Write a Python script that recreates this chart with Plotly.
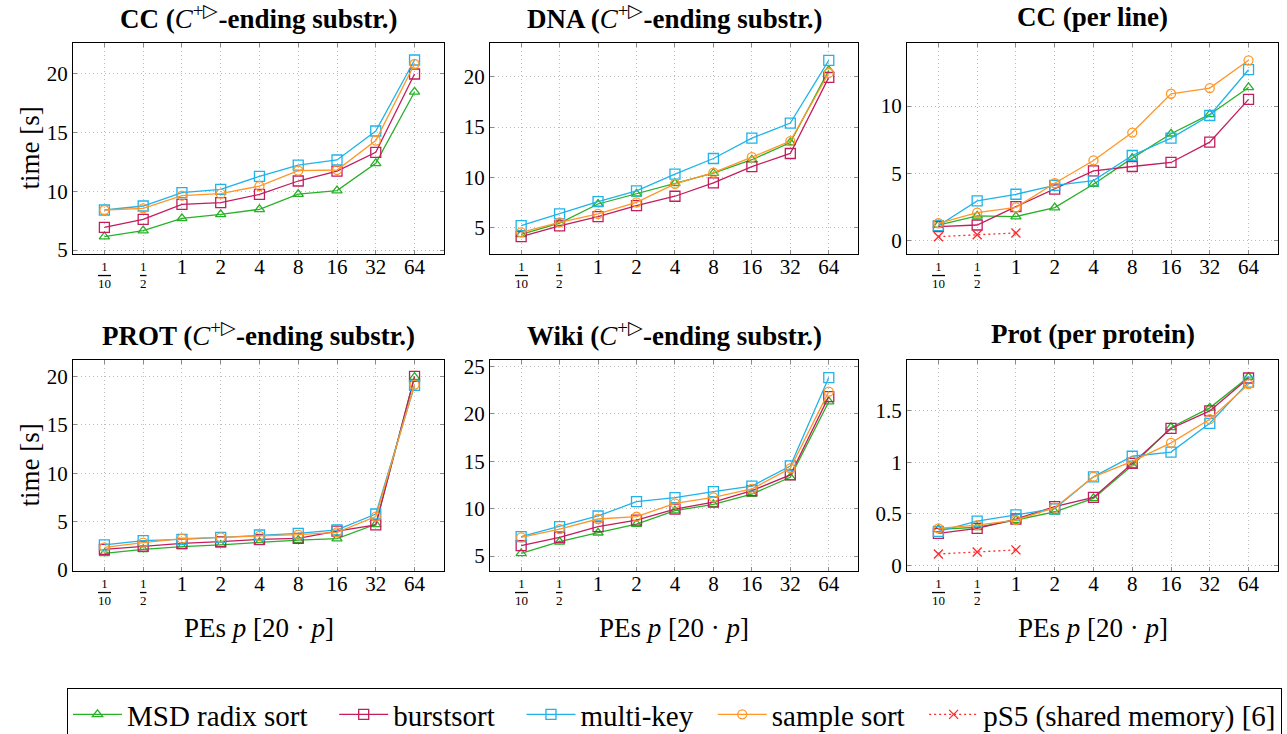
import plotly.graph_objects as go

# Positions below are window pixels; the page margin is removed after load so
# the figure's top-left corner is the window's top-left corner.  The figure is
# a bit taller than the window so the legend box runs past the bottom edge.
WIN_W, WIN_H = 1287, 734
FW, FH = WIN_W, 760
FONT = "Liberation Serif"

CATEGORIES = ["1/10", "1/2", "1", "2", "4", "8", "16", "32", "64"]
PS5_CATEGORIES = ["1/10", "1/2", "1"]
SERIES = ["MSD radix sort", "burstsort", "multi-key", "sample sort", "pS5 (shared memory) [6]"]

# CC (C+|>-ending substr.)
cc_sub_msd = [6.14, 6.65, 7.70, 8.04, 8.47, 9.77, 10.06, 12.39, 18.47]
cc_sub_burst = [6.93, 7.61, 8.89, 9.03, 9.74, 10.88, 11.73, 13.32, 20.00]
cc_sub_mkey = [8.41, 8.75, 9.89, 10.17, 11.28, 12.24, 12.67, 15.14, 21.19]
cc_sub_sample = [8.41, 8.55, 9.63, 9.80, 10.45, 11.76, 11.82, 14.32, 20.85]

# DNA (C+|>-ending substr.)
dna_msd = [4.34, 5.45, 7.35, 8.35, 9.41, 10.41, 11.75, 13.46, 20.63]
dna_burst = [4.10, 5.17, 6.10, 7.19, 8.12, 9.45, 11.07, 12.37, 19.93]
dna_mkey = [5.20, 6.36, 7.59, 8.65, 10.31, 11.87, 13.89, 15.39, 21.63]
dna_sample = [4.53, 5.53, 6.36, 7.52, 9.35, 10.47, 12.00, 13.60, 20.37]

# CC (per line)
cc_line_msd = [1.14, 1.82, 1.77, 2.44, 4.18, 6.12, 7.94, 9.38, 11.39]
cc_line_burst = [1.02, 1.14, 2.51, 3.81, 5.17, 5.50, 5.80, 7.31, 10.50]
cc_line_mkey = [1.09, 2.94, 3.43, 4.10, 4.45, 6.32, 7.61, 9.30, 12.71]
cc_line_sample = [1.27, 2.06, 2.46, 4.25, 5.95, 8.03, 10.92, 11.34, 13.41]
cc_line_ps5 = [0.27, 0.42, 0.55]

# PROT (C+|>-ending substr.)
prot_sub_msd = [1.72, 2.14, 2.41, 2.59, 2.86, 3.10, 3.24, 4.72, 19.93]
prot_sub_burst = [2.14, 2.48, 2.76, 2.93, 3.17, 3.28, 4.03, 4.66, 20.00]
prot_sub_mkey = [2.59, 3.03, 3.17, 3.38, 3.62, 3.79, 4.14, 5.79, 19.07]
prot_sub_sample = [2.34, 2.83, 3.24, 3.38, 3.52, 3.66, 3.90, 5.52, 19.14]

# Wiki (C+|>-ending substr.)
wiki_msd = [5.28, 6.51, 7.46, 8.38, 9.79, 10.46, 11.55, 13.31, 21.30]
wiki_burst = [6.09, 6.97, 8.10, 8.80, 9.96, 10.70, 11.90, 13.56, 21.83]
wiki_mkey = [7.04, 8.10, 9.23, 10.74, 11.16, 11.80, 12.39, 14.51, 23.84]
wiki_sample = [6.97, 7.85, 8.91, 9.15, 10.56, 11.20, 12.08, 14.26, 22.36]

# Prot (per protein)
prot_pp_msd = [0.35, 0.37, 0.44, 0.52, 0.65, 0.97, 1.34, 1.53, 1.83]
prot_pp_burst = [0.31, 0.36, 0.45, 0.57, 0.66, 0.99, 1.33, 1.50, 1.82]
prot_pp_mkey = [0.33, 0.43, 0.49, 0.55, 0.86, 1.06, 1.10, 1.38, 1.78]
prot_pp_sample = [0.36, 0.39, 0.44, 0.56, 0.86, 1.01, 1.19, 1.42, 1.76]
prot_pp_ps5 = [0.11, 0.13, 0.15]

SUP = "<i>C</i><sup>+▷</sup>"
TITLES = [
    f"<b>CC (</b>{SUP}<b>-ending substr.)</b>",
    f"<b>DNA (</b>{SUP}<b>-ending substr.)</b>",
    "<b>CC (per line)</b>",
    f"<b>PROT (</b>{SUP}<b>-ending substr.)</b>",
    f"<b>Wiki (</b>{SUP}<b>-ending substr.)</b>",
    "<b>Prot (per protein)</b>",
]
PANEL_DATA = [
    [cc_sub_msd, cc_sub_burst, cc_sub_mkey, cc_sub_sample, None],
    [dna_msd, dna_burst, dna_mkey, dna_sample, None],
    [cc_line_msd, cc_line_burst, cc_line_mkey, cc_line_sample, cc_line_ps5],
    [prot_sub_msd, prot_sub_burst, prot_sub_mkey, prot_sub_sample, None],
    [wiki_msd, wiki_burst, wiki_mkey, wiki_sample, None],
    [prot_pp_msd, prot_pp_burst, prot_pp_mkey, prot_pp_sample, prot_pp_ps5],
]
YRANGES = [[4.66, 22.64], [2.38, 23.35], [-1.02, 14.7], [-0.1, 21.7], [3.42, 25.7], [-0.055, 1.995]]
YDTICK = [5, 5, 5, 5, 5, 0.5]

COLORS = ["#27B127", "#C21D5C", "#1FB3EA", "#FF9627", "#FF2A2A"]
SYMBOLS = ["triangle-up-open", "square-open", "square-open", "circle-open", "x-thin-open"]
MSIZES = [9, 10, 10, 9, 9]
DASHES = ["solid", "solid", "solid", "solid", "2px,3px"]
LEGEND_PADS = [3, 3, 2, 2, 0]

COLS_PX = [(73, 444), (490, 858), (907, 1278)]
ROWS_PX = [(43, 254), (360, 571)]
XRANGE = [-0.81, 8.76]


def fx(x):
    return x / FW


def fy(y):
    return 1 - y / FH


fig = go.Figure()
shown = set()
for p in range(6):
    ax = "" if p == 0 else str(p + 1)
    for s, vals in enumerate(PANEL_DATA[p]):
        if vals is None:
            continue
        xs = CATEGORIES if s < 4 else PS5_CATEGORIES
        label = SERIES[s] + "\u00a0" * LEGEND_PADS[s]
        fig.add_trace(go.Scatter(
            x=xs, y=vals, name=label, legendgroup=SERIES[s],
            showlegend=SERIES[s] not in shown,
            mode="lines+markers",
            line=dict(color=COLORS[s], width=1.3, dash=DASHES[s]),
            marker=dict(symbol=SYMBOLS[s], size=MSIZES[s], color=COLORS[s],
                        line=dict(color=COLORS[s], width=1.3)),
            xaxis="x" + ax, yaxis="y" + ax,
        ))
        shown.add(SERIES[s])


def plain_label(lbl):
    return "" if "/" in lbl else lbl


annotations = []
layout = dict(
    width=FW, height=FH, autosize=False,
    margin=dict(l=0, r=0, t=0, b=0, autoexpand=False),
    plot_bgcolor="white", paper_bgcolor="white",
    font=dict(family=FONT, size=20, color="black"),
    showlegend=True,
    legend=dict(orientation="h", x=fx(67), y=fy(688), xanchor="left", yanchor="top",
                bordercolor="black", borderwidth=1, font=dict(size=29, family=FONT),
                itemwidth=49, traceorder="normal"),
)
for p in range(6):
    r, c = divmod(p, 3)
    x0, x1 = COLS_PX[c]
    y0, y1 = ROWS_PX[r]
    ax = "" if p == 0 else str(p + 1)
    common = dict(showline=True, linecolor="black", linewidth=1, mirror="allticks",
                  ticks="inside", ticklen=4, tickcolor="#8a8a8a",
                  showgrid=True, gridcolor="#bdbdbd", griddash="1px,3px", gridwidth=1,
                  zeroline=False, automargin=False, tickfont=dict(size=21, family=FONT))
    layout["xaxis" + ax] = dict(common, domain=[fx(x0), fx(x1)], anchor="y" + ax,
                                type="category", categoryorder="array", categoryarray=CATEGORIES,
                                range=XRANGE, tickmode="array", tickvals=CATEGORIES,
                                ticktext=[plain_label(l) for l in CATEGORIES],
                                ticklabelstandoff=-6)
    layout["yaxis" + ax] = dict(common, domain=[fy(y1), fy(y0)], anchor="x" + ax,
                                range=YRANGES[p], dtick=YDTICK[p], tick0=0)
    for lbl in CATEGORIES:
        if "/" in lbl:
            num, den = lbl.split("/")
            annotations.append(dict(
                text=f"{num}<br><span style='text-decoration:overline'>{den}</span>",
                xref="x" + ax, x=lbl, yref="paper", y=fy(y1 + 21),
                yanchor="middle", xanchor="center", showarrow=False,
                font=dict(size=13, family=FONT)))
    annotations.append(dict(text=TITLES[p], xref="paper", yref="paper",
                            x=fx((x0 + x1) / 2), y=fy(y0 - 26),
                            xanchor="center", yanchor="middle", showarrow=False,
                            font=dict(size=27, family=FONT)))
    if c == 0:
        annotations.append(dict(text="time [s]", xref="paper", yref="paper",
                                x=fx(29), y=fy((y0 + y1) / 2), textangle=-90,
                                xanchor="center", yanchor="middle", showarrow=False,
                                font=dict(size=27, family=FONT)))
    if r == 1:
        annotations.append(dict(text="PEs <i>p</i> [20 · <i>p</i>]", xref="paper", yref="paper",
                                x=fx((x0 + x1) / 2), y=fy(628),
                                xanchor="center", yanchor="middle", showarrow=False,
                                font=dict(size=27, family=FONT)))
layout["annotations"] = annotations
fig.update_layout(**layout)

PAGE_JS = ("document.body.style.margin='0';"
           "document.documentElement.style.overflow='hidden';"
           "document.body.style.overflow='hidden';")
fig.write_html("out.html", post_script=PAGE_JS,
               config={"responsive": False, "displayModeBar": False})
